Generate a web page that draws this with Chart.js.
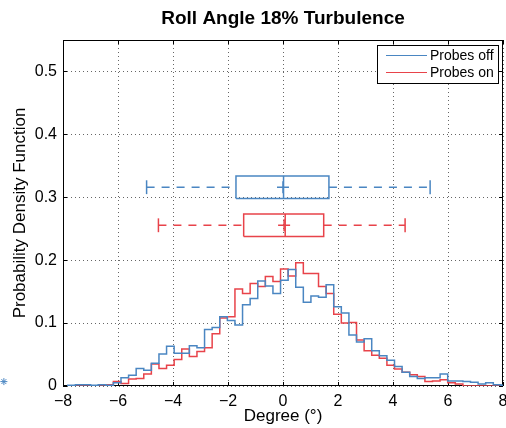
<!DOCTYPE html>
<html lang="en">
<head>
<meta charset="UTF-8">
<title>Roll Angle 18% Turbulence</title>
<script src="https://cdn.jsdelivr.net/npm/chart.js"></script>
<style>
  body { margin: 0; background: #fff; }
  #wrap { width: 506px; height: 428px; }
</style>
</head>
<body>
<div id="wrap"><canvas id="chart"></canvas></div>
<script>
// histogram bins, degrees
const binStart = -7.826;
const binWidth = 0.2763;

const probesOff = [
  0.001, 0.002, 0.002, 0.001, 0.002, 0.001, 0.005, 0.013, 0.017, 0.028,
  0.025, 0.036, 0.051, 0.063, 0.052, 0.052, 0.064, 0.061, 0.090, 0.093,
  0.110, 0.104, 0.097, 0.129, 0.139, 0.167, 0.159, 0.147, 0.168, 0.185,
  0.157, 0.133, 0.143, 0.141, 0.161, 0.126, 0.116, 0.081, 0.070, 0.075,
  0.056, 0.048, 0.041, 0.031, 0.022, 0.015, 0.012, 0.013, 0.013, 0.019,
  0.008, 0.008, 0.007, 0.006, 0.003, 0.005, 0.002, 0.001
];
const probesOn = [
  0, 0, 0, 0, 0, 0.002, 0.007, 0.004, 0.011, 0.012,
  0.019, 0.035, 0.028, 0.033, 0.042, 0.059, 0.047, 0.055, 0.061, 0.083,
  0.108, 0.110, 0.154, 0.147, 0.163, 0.158, 0.174, 0.166, 0.186, 0.175,
  0.196, 0.179, 0.179, 0.158, 0.147, 0.114, 0.100, 0.101, 0.073, 0.056,
  0.049, 0.044, 0.033, 0.027, 0.022, 0.018, 0.015, 0.007, 0.008, 0.010,
  0.005, 0.003, 0, 0, 0, 0, 0, 0
];

// box plot stats: [Probes off, Probes on]
const boxLevel = [0.316, 0.2555];
const whiskerLow = [-4.96, -4.53];
const quart1 = [-1.71, -1.43];
const medians = [0.02, 0.08];
const quart3 = [1.67, 1.48];
const whiskerHigh = [5.35, 4.44];
const means = [0.0, 0.04];

// stray marker sitting left of the axes
const strayX = [-10.15];
const strayY = [0.007];

const xTicks = [-8, -6, -4, -2, 0, 2, 4, 6, 8];
const yTicks = [0, 0.1, 0.2, 0.3, 0.4, 0.5];
const seriesNames = ['Probes off', 'Probes on'];
const colors = ['#4a86c2', '#e8434a'];

const BOX_H = 0.018;
const CAP_H = 0.011;

function stairs(vals) {
  const pts = [{x: binStart, y: 0}];
  vals.forEach((v, i) => pts.push({x: binStart + i * binWidth, y: v}));
  const end = binStart + vals.length * binWidth;
  pts.push({x: end, y: vals[vals.length - 1]});
  pts.push({x: end, y: 0});
  return pts;
}

function boxSets(i) {
  const y = boxLevel[i], c = colors[i];
  const line = {showLine: true, pointRadius: 0, borderColor: c, borderWidth: 1.5, fill: false, borderJoinStyle: 'miter'};
  return [
    {...line, data: [
      {x: quart1[i], y: y - BOX_H}, {x: quart3[i], y: y - BOX_H},
      {x: quart3[i], y: y + BOX_H}, {x: quart1[i], y: y + BOX_H},
      {x: quart1[i], y: y - BOX_H}]},
    {...line, data: [{x: medians[i], y: y - BOX_H}, {x: medians[i], y: y + BOX_H}]},
    {...line, borderDash: [8, 7], data: [{x: whiskerLow[i], y: y}, {x: quart1[i], y: y}]},
    {...line, borderDash: [8, 7], data: [{x: quart3[i], y: y}, {x: whiskerHigh[i], y: y}]},
    {...line, data: [{x: whiskerLow[i], y: y - CAP_H}, {x: whiskerLow[i], y: y + CAP_H}]},
    {...line, data: [{x: whiskerHigh[i], y: y - CAP_H}, {x: whiskerHigh[i], y: y + CAP_H}]},
    {showLine: false, pointStyle: 'cross', pointRadius: 6, borderColor: c, borderWidth: 1.5,
      data: [{x: means[i], y: y}]}
  ];
}

// dotted grid, frame and inward ticks, matlab style
const matlabAxes = {
  id: 'matlabAxes',
  beforeDatasetsDraw(chart) {
    const {ctx, chartArea: a, scales: {x, y}} = chart;
    ctx.save();
    ctx.lineWidth = 1;
    ctx.strokeStyle = 'rgba(0,0,0,0.6)';
    ctx.setLineDash([1, 3]);
    ctx.beginPath();
    xTicks.forEach(v => {
      const px = Math.round(x.getPixelForValue(v)) + 0.5;
      ctx.moveTo(px, a.top); ctx.lineTo(px, a.bottom);
    });
    yTicks.forEach(v => {
      const py = Math.round(y.getPixelForValue(v)) + 0.5;
      ctx.moveTo(a.left, py); ctx.lineTo(a.right, py);
    });
    ctx.stroke();

    ctx.setLineDash([]);
    ctx.strokeStyle = '#000';
    ctx.strokeRect(a.left + 0.5, a.top + 0.5, a.width - 1, a.height - 1);
    ctx.beginPath();
    xTicks.forEach(v => {
      const px = Math.round(x.getPixelForValue(v)) + 0.5;
      ctx.moveTo(px, a.bottom); ctx.lineTo(px, a.bottom - 4);
      ctx.moveTo(px, a.top); ctx.lineTo(px, a.top + 4);
    });
    yTicks.forEach(v => {
      const py = Math.round(y.getPixelForValue(v)) + 0.5;
      ctx.moveTo(a.left, py); ctx.lineTo(a.left + 4, py);
      ctx.moveTo(a.right, py); ctx.lineTo(a.right - 4, py);
    });
    ctx.stroke();
    ctx.restore();
  }
};

// chart.js skips points outside the chart area, so the stray '*' is drawn here
const strayMarks = {
  id: 'strayMarks',
  afterDraw(chart) {
    const {ctx, scales: {x, y}} = chart;
    const r = 3.5;
    ctx.save();
    ctx.strokeStyle = colors[0];
    ctx.lineWidth = 1;
    strayX.forEach((v, i) => {
      const px = x.getPixelForValue(v), py = y.getPixelForValue(strayY[i]);
      ctx.beginPath();
      ctx.moveTo(px - r, py); ctx.lineTo(px + r, py);
      ctx.moveTo(px, py - r); ctx.lineTo(px, py + r);
      ctx.moveTo(px - r * 0.7, py - r * 0.7); ctx.lineTo(px + r * 0.7, py + r * 0.7);
      ctx.moveTo(px - r * 0.7, py + r * 0.7); ctx.lineTo(px + r * 0.7, py - r * 0.7);
      ctx.stroke();
    });
    ctx.restore();
  }
};

const boxLegend = {
  id: 'boxLegend',
  afterDraw(chart) {
    const {ctx, chartArea: a} = chart;
    const w = 121, h = 38;
    const left = Math.round(a.right - 5 - w), top = Math.round(a.top + 5);
    ctx.save();
    ctx.fillStyle = '#fff';
    ctx.fillRect(left, top, w, h);
    ctx.strokeStyle = '#000';
    ctx.lineWidth = 1;
    ctx.strokeRect(left + 0.5, top + 0.5, w, h);
    ctx.font = '14px "Liberation Sans"';
    ctx.textBaseline = 'middle';
    seriesNames.forEach((name, i) => {
      const yy = top + 10.5 + i * 17;
      ctx.strokeStyle = colors[i];
      ctx.beginPath();
      ctx.moveTo(left + 9, yy); ctx.lineTo(left + 50, yy);
      ctx.stroke();
      ctx.fillStyle = '#000';
      ctx.fillText(name, left + 53, yy + 1);
    });
    ctx.restore();
  }
};

const minus = v => (v < 0 ? '\u2212' + Math.abs(v) : String(v));

Chart.defaults.font.family = '"Liberation Sans", Arial, sans-serif';
Chart.defaults.color = '#000';

new Chart(document.getElementById('chart'), {
  type: 'scatter',
  data: {
    datasets: [
      {label: seriesNames[0], data: stairs(probesOff), showLine: true, stepped: true,
        borderColor: colors[0], borderWidth: 1.5, pointRadius: 0},
      {label: seriesNames[1], data: stairs(probesOn), showLine: true, stepped: true,
        borderColor: colors[1], borderWidth: 1.5, pointRadius: 0},
      ...boxSets(0),
      ...boxSets(1)
    ]
  },
  options: {
    responsive: true,
    maintainAspectRatio: false,
    animation: false,
    events: [],
    layout: {autoPadding: false, padding: {left: 0, right: 3, top: 0, bottom: 0}},
    plugins: {
      legend: {display: false},
      tooltip: {enabled: false},
      title: {
        display: true,
        fullSize: false,
        text: 'Roll Angle 18% Turbulence',
        color: '#000',
        font: {size: 19, weight: 'bold'},
        padding: {top: 7, bottom: 10.2}
      }
    },
    scales: {
      x: {
        type: 'linear', min: -8, max: 8,
        afterBuildTicks: s => { s.ticks = xTicks.map(v => ({value: v})); },
        afterFit: s => { s.height = 42; s.paddingLeft = 0; s.paddingRight = 0; },
        grid: {display: false, drawTicks: false, tickLength: 0},
        border: {display: false},
        ticks: {font: {size: 16}, padding: 6, maxRotation: 0, autoSkip: false, callback: minus},
        title: {display: true, text: 'Degree (°)', font: {size: 17}, padding: {top: 0, bottom: 1}}
      },
      y: {
        min: 0, max: 0.55,
        afterBuildTicks: s => { s.ticks = yTicks.map(v => ({value: v})); },
        afterFit: s => { s.width = 63; },
        grid: {display: false, drawTicks: false, tickLength: 0},
        border: {display: false},
        ticks: {font: {size: 16}, padding: 6, callback: v => (v === 0 ? '0' : v.toFixed(1))},
        title: {display: true, text: 'Probability Density Function', font: {size: 17}, padding: {top: 10, bottom: 0}}
      }
    }
  },
  plugins: [matlabAxes, strayMarks, boxLegend]
});
</script>
</body>
</html>
